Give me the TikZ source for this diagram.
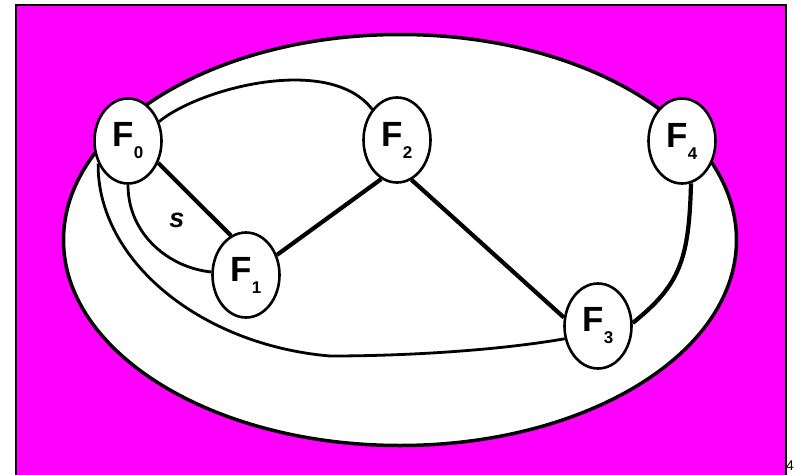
\documentclass[tikz,border=0pt]{standalone}
\usepackage{fontspec}
\setmainfont{Liberation Sans}
\usetikzlibrary{shapes.geometric}
\definecolor{mag}{RGB}{255,0,255}
\newcommand\Flab[1]{\fontsize{35}{35}\selectfont\bfseries F\raisebox{-12pt}{\fontsize{17}{17}\selectfont #1}}
\begin{document}
\begin{tikzpicture}[x=1pt,y=-1pt,
  fnode/.style={ellipse,draw,fill=white,line width=2.6pt,minimum width=67pt,minimum height=85pt,inner sep=0pt},
  bigedge/.style={line width=4.2pt},
  curveedge/.style={line width=2.8pt}]
\useasboundingbox (0,0) rectangle (795,474);
\fill[white] (0,0) rectangle (795,474);
\draw[fill=mag,line width=1.5pt] (16,5) rectangle (786,490);
\node[ellipse,draw,fill=white,line width=3.5pt,minimum width=673pt,minimum height=411pt,inner sep=0pt] (big) at (400,240) {};
\node[fnode] (F0) at (128,141) {\Flab{0}};
\node[fnode] (F1) at (246,275) {\Flab{1}};
\node[fnode] (F2) at (397,140) {\Flab{2}};
\node[fnode] (F3) at (598,326) {\Flab{3}};
\node[fnode] (F4) at (682,141) {\Flab{4}};
\coordinate (k) at (330,356);
% straight thick edges
\draw[bigedge] (F0.-36) -- (F1.111);
\draw[bigedge] (F1.33) -- (F2.-112);
\draw[bigedge] (F2.-70) -- (F3.166);
% curves
\draw[curveedge] (F0.32) .. controls (200,88) and (330,54) .. (F2.129);
\draw[curveedge] (F0.-90) .. controls (128,235) and (170,268) .. (F1.175);
\draw[curveedge] (F0.-143) .. controls (97,260) and (200,345) .. (k);
\draw[curveedge] (k) .. controls (410,356) and (500,350) .. (F3.-159);
\draw[bigedge] (F4.-78) .. controls (689,260) and (680,285) .. (F3.5);
\node (s) at (177,220) {\fontsize{27}{27}\selectfont\bfseries\itshape s};
\node[anchor=south east,inner sep=0pt] (pg) at (794,471) {\fontsize{14}{14}\selectfont 4};
\end{tikzpicture}
\end{document}
